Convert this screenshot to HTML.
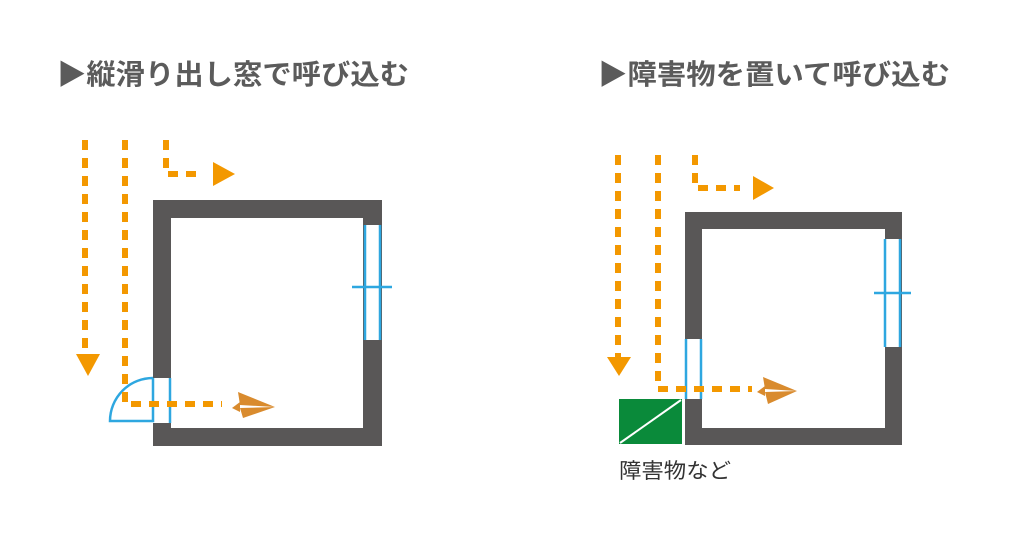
<!DOCTYPE html>
<html><head><meta charset="utf-8"><style>
html,body{margin:0;padding:0;background:#fff;}
svg{display:block;}
</style></head><body>
<svg width="1024" height="538" viewBox="0 0 1024 538" xmlns="http://www.w3.org/2000/svg">
<g font-family="'Liberation Sans','Noto Sans CJK JP',sans-serif" font-weight="bold" fill="#5b5b5b" font-size="28">
<text x="57" y="84" textLength="352" lengthAdjust="spacingAndGlyphs">▶縦滑り出し窓で呼び込む</text>
<text x="598" y="84" textLength="352" lengthAdjust="spacingAndGlyphs">▶障害物を置いて呼び込む</text>
</g>

<!-- LEFT -->
<g>
<path d="M153 200 H382 V446 H153 Z M171 218 V428 H363 V218 Z" fill="#595757" fill-rule="evenodd"/>
<rect x="364" y="225" width="17" height="115" fill="#fff"/>
<line x1="365" y1="225" x2="365" y2="340" stroke="#2ea7e0" stroke-width="2.5"/>
<line x1="380" y1="225" x2="380" y2="340" stroke="#2ea7e0" stroke-width="2.5"/>
<line x1="352" y1="287" x2="392" y2="287" stroke="#2ea7e0" stroke-width="2.5"/>
<rect x="153" y="378" width="18" height="45" fill="#fff"/>
<line x1="170" y1="378" x2="170" y2="423" stroke="#2ea7e0" stroke-width="2.5"/>
<path d="M153 378 V421 H110 A43 43 0 0 1 153 378" fill="none" stroke="#2ea7e0" stroke-width="2.5"/>
<g stroke="#f39800" stroke-width="6" fill="none" stroke-dasharray="10 8">
<line x1="85" y1="140" x2="85" y2="356"/>
<polyline points="125,140 125,404 222,404"/>
<polyline points="166,140 166,174 200,174"/>
</g>
<polygon points="76,354 100,354 88,376" fill="#f39800"/>
<polygon points="213,162 235,174 213,186" fill="#f39800"/>
<g fill="#d98b2e">
<polygon points="238,392 275,407 240,405"/>
<polygon points="240,408 275,407 243,418"/>
<polygon points="232,408 240,402 240,412"/>
</g>
</g>

<!-- RIGHT -->
<g>
<path d="M685 212 H902 V445 H685 Z M702 229 V428 H885 V229 Z" fill="#595757" fill-rule="evenodd"/>
<rect x="885" y="239" width="16" height="108" fill="#fff"/>
<line x1="885" y1="239" x2="885" y2="347" stroke="#2ea7e0" stroke-width="2.5"/>
<line x1="900" y1="239" x2="900" y2="347" stroke="#2ea7e0" stroke-width="2.5"/>
<line x1="874" y1="293" x2="911" y2="293" stroke="#2ea7e0" stroke-width="2.5"/>
<rect x="685" y="339" width="17" height="60" fill="#fff"/>
<line x1="686" y1="339" x2="686" y2="399" stroke="#2ea7e0" stroke-width="2.5"/>
<line x1="701" y1="339" x2="701" y2="399" stroke="#2ea7e0" stroke-width="2.5"/>
<rect x="619" y="399" width="63" height="45" fill="#0a8a3a"/>
<line x1="620" y1="443" x2="681" y2="400" stroke="#fff" stroke-width="2"/>
<g stroke="#f39800" stroke-width="6" fill="none" stroke-dasharray="10 8">
<line x1="618" y1="155" x2="618" y2="358"/>
<polyline points="658,155 658,389 752,389"/>
<polyline points="695,155 695,188 740,188"/>
</g>
<polygon points="607,357 631,357 619,376" fill="#f39800"/>
<polygon points="753,176 774,188 753,200" fill="#f39800"/>
<g fill="#d98b2e">
<polygon points="763,377 797,391 765,389"/>
<polygon points="765,392 797,391 768,404"/>
<polygon points="757,392 765,386 765,396"/>
</g>
<text x="619" y="478" font-family="'Liberation Sans','Noto Sans CJK JP',sans-serif" font-size="21" fill="#333" textLength="112" lengthAdjust="spacingAndGlyphs">障害物など</text>
</g>
</svg>
</body></html>
